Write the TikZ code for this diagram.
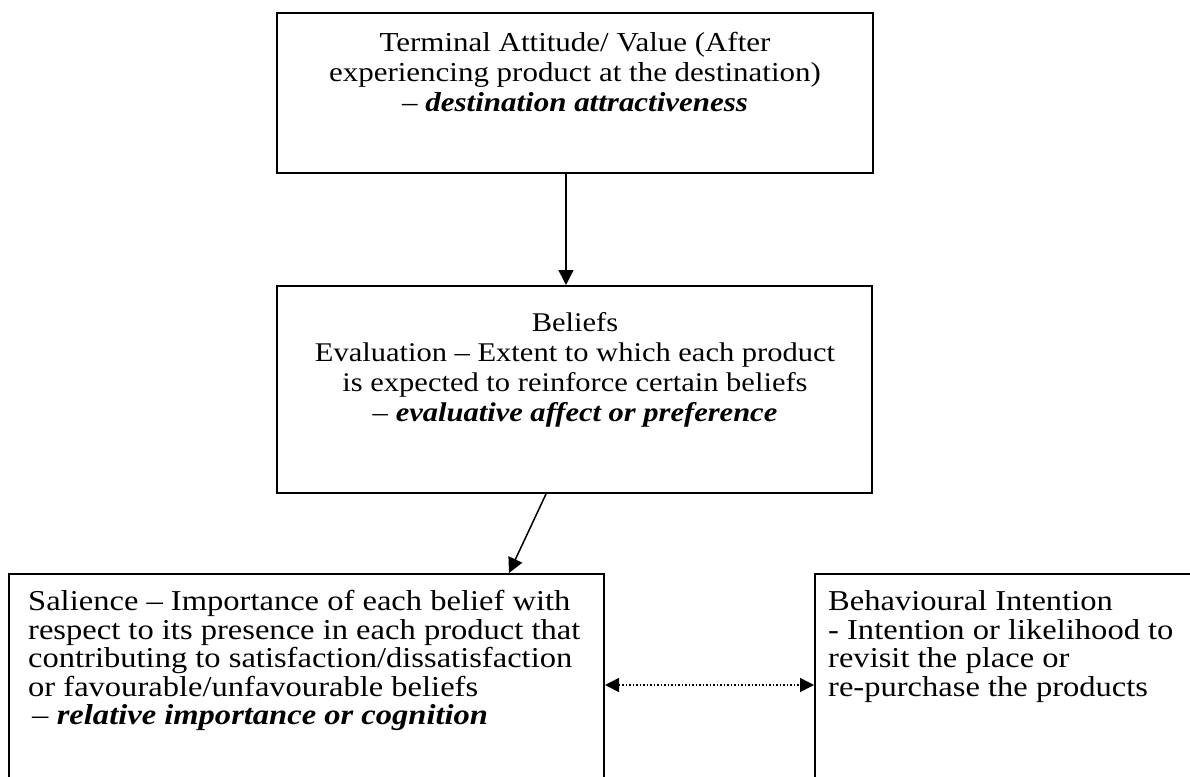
\documentclass[tikz,border=0pt]{standalone}
\usepackage{fontspec}
\setmainfont[FakeStretch=1.13]{Liberation Serif}
\usetikzlibrary{arrows.meta}
\lineskiplimit=-100pt
\begin{document}
\begin{tikzpicture}[x=1pt,y=-1pt,
  box/.style={draw, line width=2pt, inner sep=0pt},
  txt/.style={inner sep=0pt, execute at begin node={\lineskiplimit=-100pt}},
  arr/.style={line width=1.5pt, -{Triangle[length=15pt,width=15pt]}},
  dotarr/.style={line width=1.5pt, dotted, {Triangle[length=14pt,width=14pt]}-{Triangle[length=14pt,width=14pt]}}]
\useasboundingbox (0,0) rectangle (1190,776);
\clip (0,0) rectangle (1190,776);
% boxes
\node[box, minimum width=596pt, minimum height=160pt] (term) at (575,93) {};
\node[box, minimum width=595pt, minimum height=207pt] (beliefs) at (574.5,389.5) {};
\node[box, minimum width=595.5pt, minimum height=222pt] (sal) at (306.25,685) {};
\node[box, minimum width=400pt, minimum height=222pt] (beh) at (1015,685) {};
% texts
\node[txt, font=\fontsize{27.4}{30}\selectfont, align=center, anchor=north] (termtext) at (575,32.5)
  {Terminal Attitude/ Value (After\\experiencing product at the destination)\\–~\textbf{\textit{destination attractiveness}}};
\node[txt, font=\fontsize{27}{30}\selectfont, align=center, anchor=north] (beltext) at (575,312)
  {Beliefs\\Evaluation – Extent to which each product\\is expected to reinforce certain beliefs\\–~\textbf{\textit{evaluative affect or preference}}};
\node[txt, font=\fontsize{28.8}{28.5}\selectfont, align=left, anchor=north west] (saltext) at (28,590.5)
  {Salience – Importance of each belief with\\respect to its presence in each product that\\contributing to satisfaction/dissatisfaction\\or favourable/unfavourable beliefs\\\hspace{4pt}–~\textbf{\textit{relative importance or cognition}}};
\node[txt, font=\fontsize{28.8}{28.5}\selectfont, align=left, anchor=north west] (behtext) at (828,590.5)
  {Behavioural Intention\\- Intention or likelihood to\\revisit the place or\\re-purchase the products};
% connectors
\draw[arr] ([xshift=-9pt]term.south) -- ([xshift=-8.5pt]beliefs.north);
\draw[arr] ([xshift=-28.5pt]beliefs.south) -- ([xshift=-96pt]sal.north east);
\draw[dotarr] (sal.east) -- (beh.west);
\end{tikzpicture}
\end{document}
